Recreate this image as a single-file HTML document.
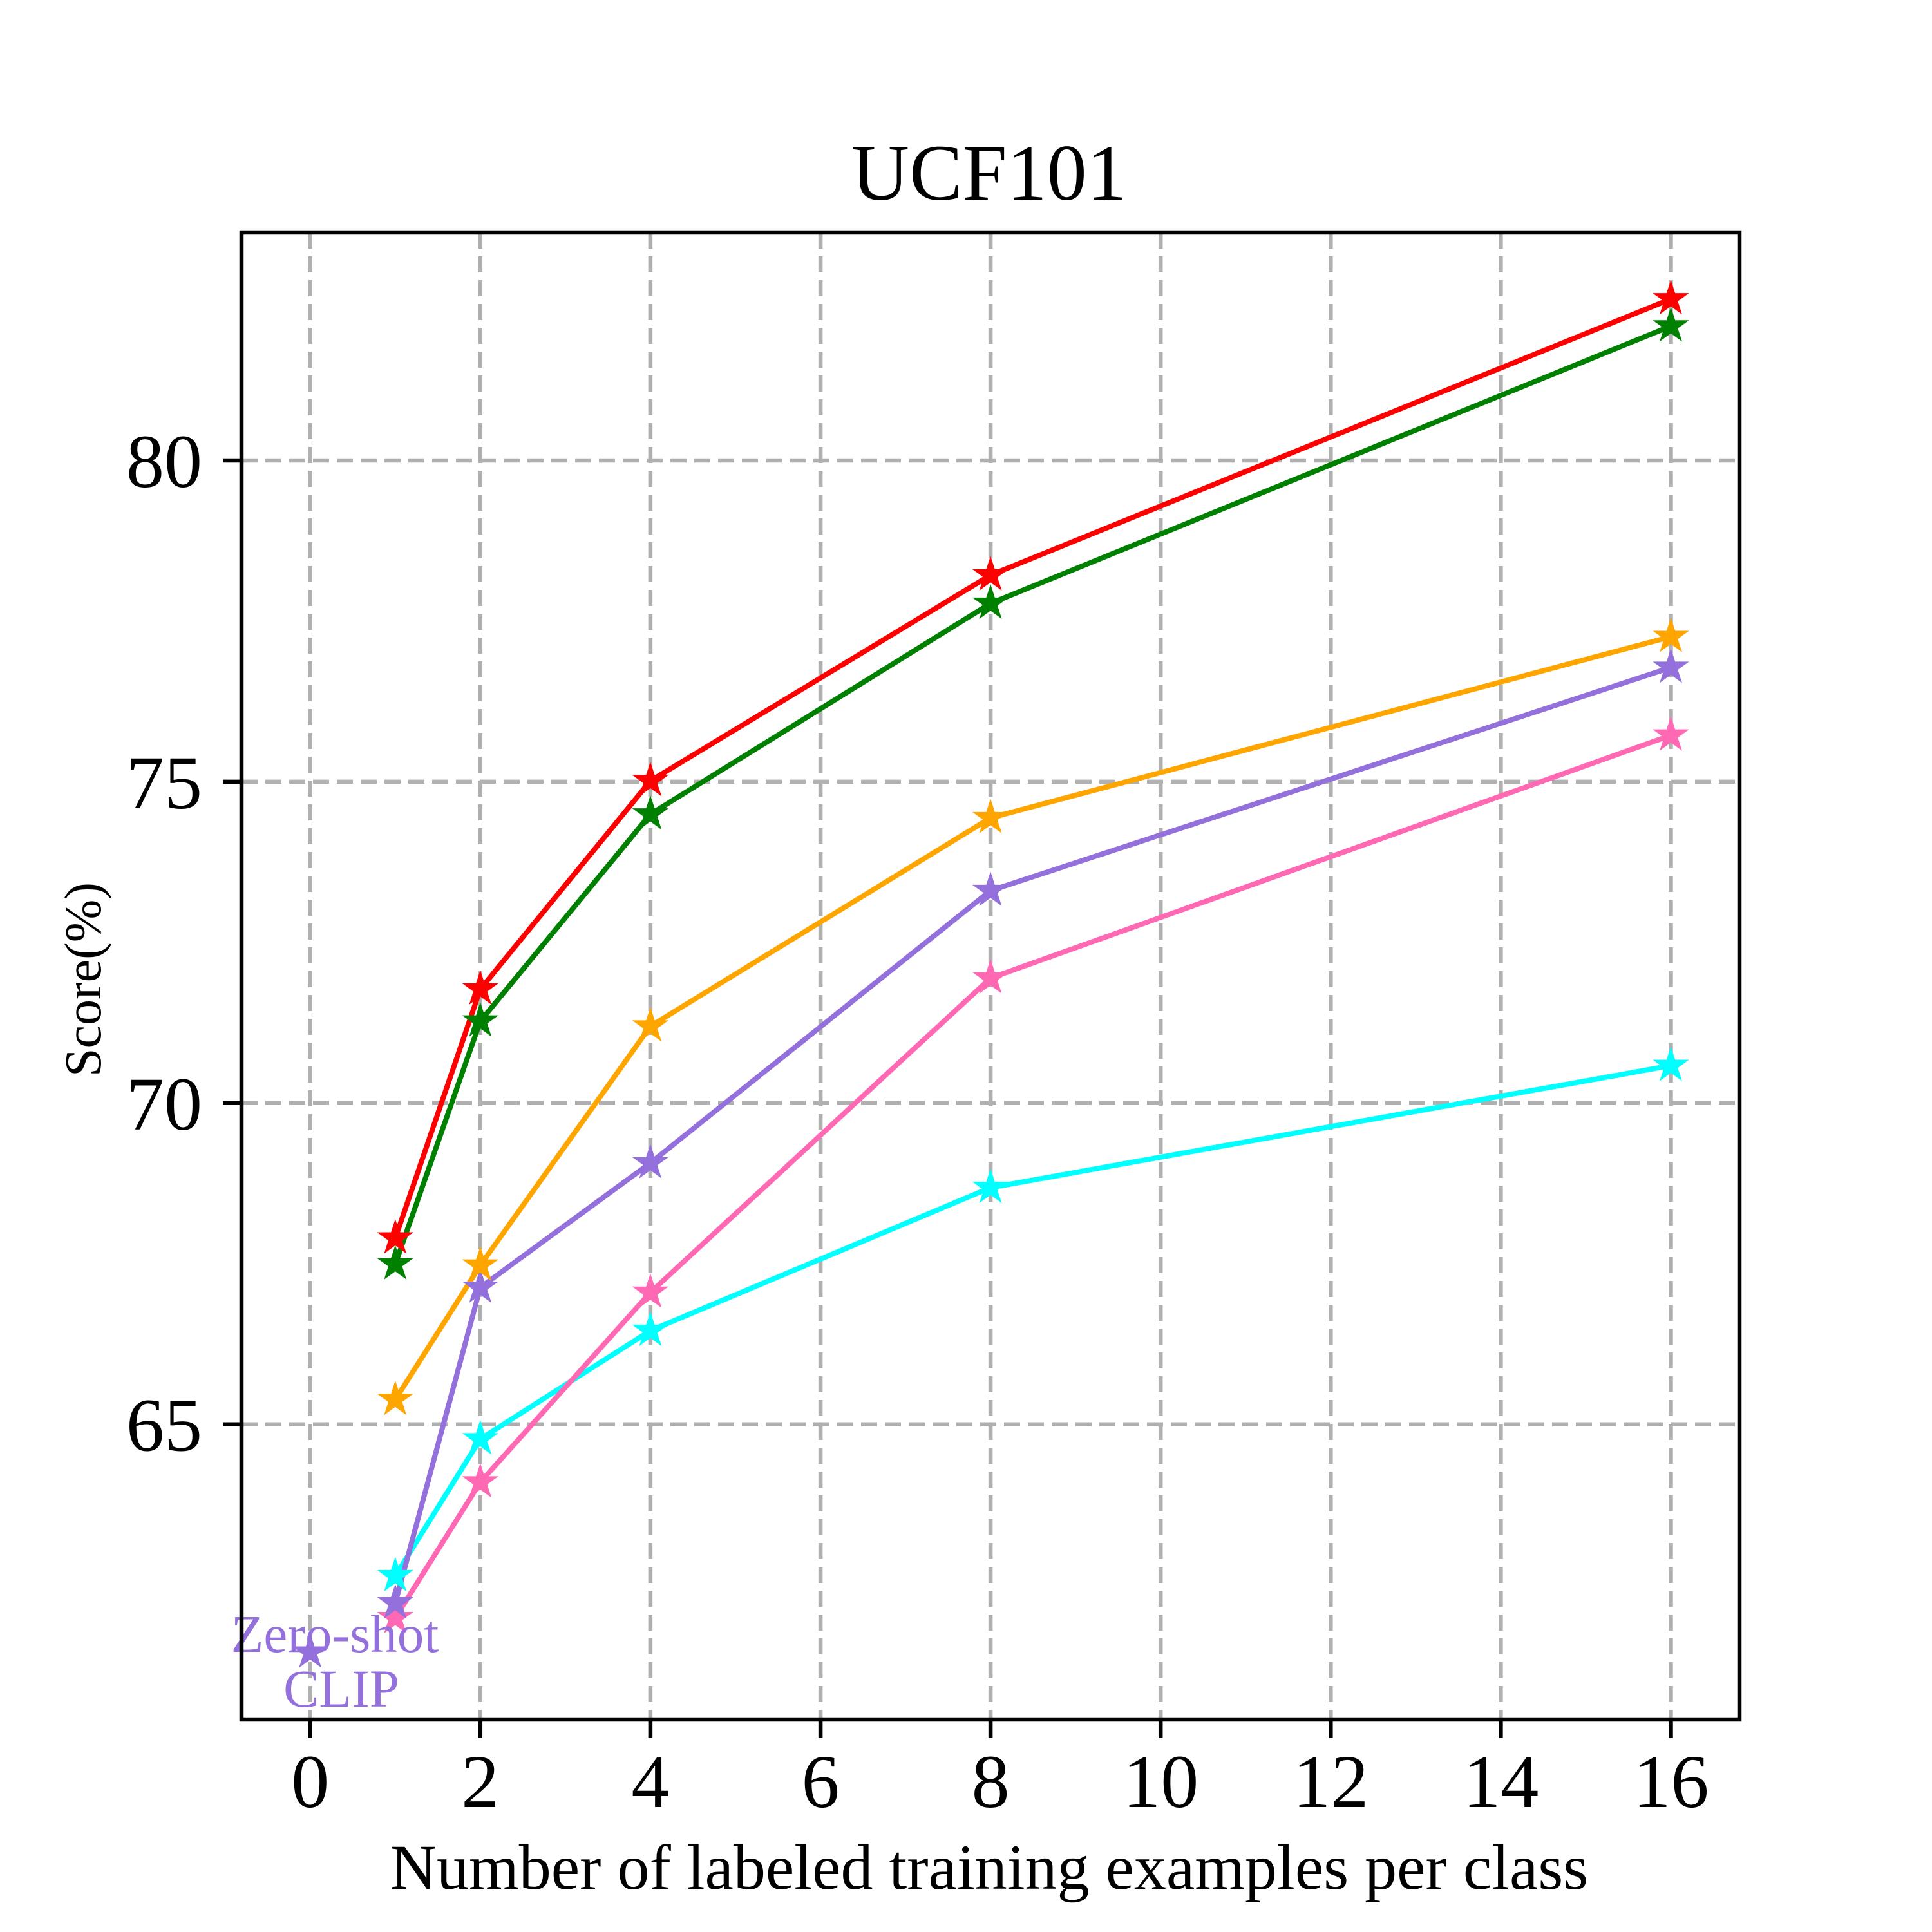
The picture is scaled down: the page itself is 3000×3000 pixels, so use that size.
<!DOCTYPE html>
<html><head><meta charset="utf-8"><style>body{margin:0;background:#fff}svg{display:block}</style></head>
<body>
<svg width="3000" height="3000" viewBox="0 0 3000 3000" xmlns="http://www.w3.org/2000/svg" font-family="'Liberation Serif', serif">
<defs>
<path id="st" transform="scale(1.1)" d="M0,-27 L6.07,-8.35 L25.68,-8.35 L9.82,3.19 L15.87,21.84 L0,10.32 L-15.87,21.84 L-9.82,3.19 L-25.68,-8.35 L-6.07,-8.35 Z"/>
</defs>
<rect width="3000" height="3000" fill="#fff"/>
<g stroke="#b0b0b0" stroke-width="6.5" stroke-dasharray="25,12">
<line x1="481.7" y1="361" x2="481.7" y2="2670"/>
<line x1="745.8" y1="361" x2="745.8" y2="2670"/>
<line x1="1009.9" y1="361" x2="1009.9" y2="2670"/>
<line x1="1274.1" y1="361" x2="1274.1" y2="2670"/>
<line x1="1538.1" y1="361" x2="1538.1" y2="2670"/>
<line x1="1802.2" y1="361" x2="1802.2" y2="2670"/>
<line x1="2066.3" y1="361" x2="2066.3" y2="2670"/>
<line x1="2330.4" y1="361" x2="2330.4" y2="2670"/>
<line x1="2594.5" y1="361" x2="2594.5" y2="2670"/>
<line x1="375" y1="2211.7" x2="2701" y2="2211.7"/>
<line x1="375" y1="1712.8" x2="2701" y2="1712.8"/>
<line x1="375" y1="1213.9" x2="2701" y2="1213.9"/>
<line x1="375" y1="715" x2="2701" y2="715"/>
</g>
<g fill="none" stroke-width="8" stroke-linejoin="round">
<polyline stroke="#00ffff" points="613.8,2447.1 745.8,2234.6 1009.9,2066.2 1538.1,1844.2 2594.5,1654.7"/>
<polyline stroke="#ff69b4" points="613.8,2512.2 745.8,2301.6 1009.9,2006.9 1538.1,1518.8 2594.5,1141.8"/>
<polyline stroke="#9370db" points="613.8,2489.2 745.8,1999.2 1009.9,1805.9 1538.1,1383.0 2594.5,1036.5"/>
<polyline stroke="#ffa500" points="613.8,2173.4 745.8,1964.8 1009.9,1593.5 1538.1,1270.0 2594.5,988.7"/>
<polyline stroke="#008000" points="613.8,1962.9 745.8,1585.8 1009.9,1264.3 1538.1,937.0 2594.5,506.4"/>
<polyline stroke="#ff0000" points="613.8,1922.7 745.8,1536.1 1009.9,1212.6 1538.1,893.0 2594.5,464.3"/>
</g>
<g fill="#00ffff"><use href="#st" x="613.8" y="2447.1"/><use href="#st" x="745.8" y="2234.6"/><use href="#st" x="1009.9" y="2066.2"/><use href="#st" x="1538.1" y="1844.2"/><use href="#st" x="2594.5" y="1654.7"/></g>
<g fill="#ff69b4"><use href="#st" x="613.8" y="2512.2"/><use href="#st" x="745.8" y="2301.6"/><use href="#st" x="1009.9" y="2006.9"/><use href="#st" x="1538.1" y="1518.8"/><use href="#st" x="2594.5" y="1141.8"/></g>
<g fill="#9370db"><use href="#st" x="613.8" y="2489.2"/><use href="#st" x="745.8" y="1999.2"/><use href="#st" x="1009.9" y="1805.9"/><use href="#st" x="1538.1" y="1383.0"/><use href="#st" x="2594.5" y="1036.5"/><use href="#st" x="481.7" y="2565.7"/></g>
<g fill="#ffa500"><use href="#st" x="613.8" y="2173.4"/><use href="#st" x="745.8" y="1964.8"/><use href="#st" x="1009.9" y="1593.5"/><use href="#st" x="1538.1" y="1270.0"/><use href="#st" x="2594.5" y="988.7"/></g>
<g fill="#008000"><use href="#st" x="613.8" y="1962.9"/><use href="#st" x="745.8" y="1585.8"/><use href="#st" x="1009.9" y="1264.3"/><use href="#st" x="1538.1" y="937.0"/><use href="#st" x="2594.5" y="506.4"/></g>
<g fill="#ff0000"><use href="#st" x="613.8" y="1922.7"/><use href="#st" x="745.8" y="1536.1"/><use href="#st" x="1009.9" y="1212.6"/><use href="#st" x="1538.1" y="893.0"/><use href="#st" x="2594.5" y="464.3"/></g>
<g fill="#9370db" font-size="83" text-anchor="middle">
<text x="520" y="2565">Zero-shot</text>
<text x="530" y="2650">CLIP</text>
</g>
<rect x="375" y="361" width="2326" height="2309" fill="none" stroke="#000" stroke-width="6.5"/>
<g stroke="#000" stroke-width="6.5">
<line x1="481.7" y1="2670" x2="481.7" y2="2699"/><line x1="745.8" y1="2670" x2="745.8" y2="2699"/><line x1="1009.9" y1="2670" x2="1009.9" y2="2699"/><line x1="1274.1" y1="2670" x2="1274.1" y2="2699"/><line x1="1538.1" y1="2670" x2="1538.1" y2="2699"/><line x1="1802.2" y1="2670" x2="1802.2" y2="2699"/><line x1="2066.3" y1="2670" x2="2066.3" y2="2699"/><line x1="2330.4" y1="2670" x2="2330.4" y2="2699"/><line x1="2594.5" y1="2670" x2="2594.5" y2="2699"/>
<line x1="346" y1="2211.7" x2="375" y2="2211.7"/><line x1="346" y1="1712.8" x2="375" y2="1712.8"/><line x1="346" y1="1213.9" x2="375" y2="1213.9"/><line x1="346" y1="715" x2="375" y2="715"/>
</g>
<g font-size="118" text-anchor="middle" fill="#000">
<text x="481.7" y="2806">0</text><text x="745.8" y="2806">2</text><text x="1009.9" y="2806">4</text><text x="1274.1" y="2806">6</text><text x="1538.1" y="2806">8</text><text x="1802.2" y="2806">10</text><text x="2066.3" y="2806">12</text><text x="2330.4" y="2806">14</text><text x="2594.5" y="2806">16</text>
</g>
<g font-size="118" text-anchor="end" fill="#000">
<text x="314" y="2252.7">65</text><text x="314" y="1753.8">70</text><text x="314" y="1254.9">75</text><text x="314" y="756">80</text>
</g>
<text x="1536" y="2933" font-size="100" text-anchor="middle">Number of labeled training examples per class</text>
<text x="1536" y="310" font-size="124" text-anchor="middle">UCF101</text>
<text transform="translate(156,1521) rotate(-90)" font-size="80" text-anchor="middle">Score(%)</text>
</svg>
</body></html>
